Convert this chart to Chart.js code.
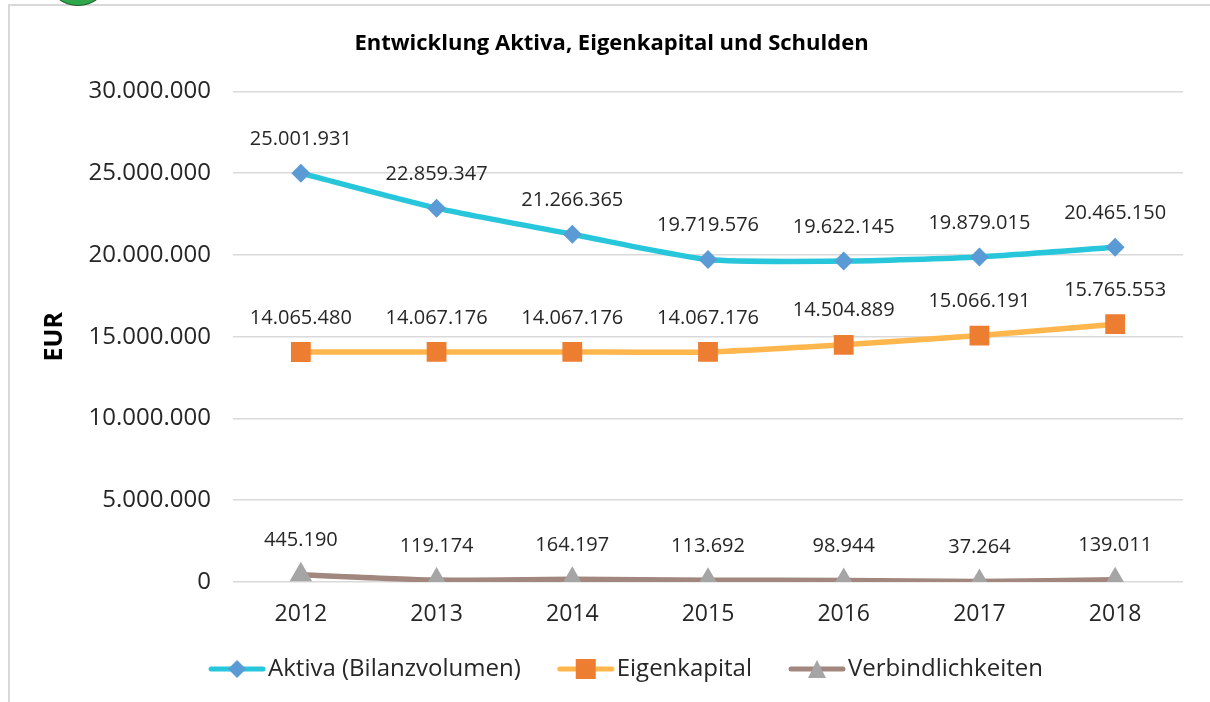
<!DOCTYPE html>
<html>
<head>
<meta charset="utf-8">
<script src="https://cdn.jsdelivr.net/npm/chart.js@4/dist/chart.umd.min.js"></script>
<style>
    html, body { margin: 0; padding: 0; background: #fff; }
    #wrap { position: relative; width: 1210px; height: 702px; overflow: hidden; }
    #frame {
        position: absolute; left: 8px; top: 4px; width: 1210px; height: 800px;
        border-left: 2px solid #d9d9d9; border-top: 2px solid #d9d9d9;
    }
    #logo {
        position: absolute; left: 50px; top: -40px; width: 54px; height: 44px;
        border-radius: 50%; background: #2ea84a; border: 1px solid #1d5f2a;
    }
    canvas { position: absolute; left: 0; top: 0; }
</style>
</head>
<body>
<div id="wrap">
    <div id="frame"></div>
    <div id="logo"></div>
    <canvas id="chart" width="1210" height="702"></canvas>
</div>
<script>
const years = ['2012', '2013', '2014', '2015', '2016', '2017', '2018'];
const aktiva = [25001931, 22859347, 21266365, 19719576, 19622145, 19879015, 20465150];
const eigenkapital = [14065480, 14067176, 14067176, 14067176, 14504889, 15066191, 15765553];
const verbindlichkeiten = [445190, 119174, 164197, 113692, 98944, 37264, 139011];
const yTicks = [0, 5000000, 10000000, 15000000, 20000000, 25000000, 30000000];

const TEXT = '#262626';
const GRID = '#d9d9d9';
const FONT = "'Open Sans', 'Noto Sans', sans-serif";

function fmt(n) {
    return String(Math.round(n)).replace(/\B(?=(\d{3})+(?!\d))/g, '.');
}

// legend swatch: line with the marker in the middle, like Excel.
// the left part of the canvas stays empty so the swatch sits close to its text
function legendIcon(lineColor, markColor, shape) {
    const c = document.createElement('canvas');
    c.width = 96;
    c.height = 22;
    const ctx = c.getContext('2d');
    const o = 38;
    ctx.strokeStyle = lineColor;
    ctx.lineWidth = 5;
    ctx.lineCap = 'round';
    ctx.beginPath();
    ctx.moveTo(o + 3, 11);
    ctx.lineTo(o + 55, 11);
    ctx.stroke();
    ctx.fillStyle = markColor;
    ctx.beginPath();
    if (shape === 'diamond') {
        ctx.moveTo(o + 29, 2); ctx.lineTo(o + 38, 11); ctx.lineTo(o + 29, 20); ctx.lineTo(o + 20, 11);
    } else if (shape === 'square') {
        ctx.rect(o + 19, 1, 20, 20);
    } else {
        ctx.moveTo(o + 29, 2); ctx.lineTo(o + 38, 20); ctx.lineTo(o + 20, 20);
    }
    ctx.closePath();
    ctx.fill();
    return c;
}

const series = [
    { label: 'Aktiva (Bilanzvolumen)', data: aktiva, line: '#27c6db', mark: '#5b9bd5', style: 'rectRot', r: 9.5, shape: 'diamond' },
    { label: 'Eigenkapital', data: eigenkapital, line: '#ffb64d', mark: '#ed7d31', style: 'rect', r: 14, shape: 'square' },
    { label: 'Verbindlichkeiten', data: verbindlichkeiten, line: '#a1877d', mark: '#a5a5a5', style: 'triangle', r: 13, shape: 'triangle' },
];

const valueLabels = {
    id: 'valueLabels',
    afterDatasetsDraw(chart) {
        const ctx = chart.ctx;
        ctx.save();
        ctx.font = `20px ${FONT}`;
        ctx.fillStyle = TEXT;
        ctx.textAlign = 'center';
        ctx.textBaseline = 'middle';
        chart.data.datasets.forEach((ds, i) => {
            chart.getDatasetMeta(i).data.forEach((pt, j) => {
                ctx.fillText(fmt(ds.data[j]), pt.x, pt.y - 34);
            });
        });
        ctx.restore();
    },
};

new Chart(document.getElementById('chart'), {
    type: 'line',
    data: {
        labels: years,
        datasets: series.map(s => ({
            label: s.label,
            data: s.data,
            borderColor: s.line,
            backgroundColor: s.mark,
            borderWidth: 5.5,
            tension: 0.2,
            pointStyle: s.style,
            pointRadius: s.r,
            pointHoverRadius: s.r,
            pointBackgroundColor: s.mark,
            pointBorderColor: s.mark,
            pointBorderWidth: 0,
            legendIcon: legendIcon(s.line, s.mark, s.shape),
        })),
    },
    options: {
        responsive: false,
        animation: false,
        layout: { padding: { left: 40, right: 27, top: 31, bottom: 11 } },
        scales: {
            x: {
                offset: true,
                grid: { display: false },
                border: { display: false },
                ticks: { color: TEXT, font: { family: FONT, size: 23 }, padding: 11 },
                afterFit(scale) { scale.height = 67; },
            },
            y: {
                min: 0,
                max: 30000000,
                afterBuildTicks(scale) { scale.ticks = yTicks.map(v => ({ value: v })); },
                grid: { color: GRID, lineWidth: 1.5, drawTicks: false },
                border: { display: false },
                ticks: {
                    color: TEXT,
                    font: { family: FONT, size: 24 },
                    padding: 22,
                    callback: v => fmt(v),
                },
                title: {
                    display: true,
                    text: 'EUR',
                    color: '#000',
                    font: { family: FONT, size: 25, weight: 'bold' },
                    padding: 0,
                },
                afterFit(scale) { scale.width = 193; },
            },
        },
        plugins: {
            title: {
                display: true,
                text: 'Entwicklung Aktiva, Eigenkapital und Schulden',
                color: '#000',
                font: { family: FONT, size: 22, weight: 'bold' },
                padding: { top: 0, bottom: 34 },
            },
            legend: {
                position: 'bottom',
                labels: {
                    color: TEXT,
                    font: { family: FONT, size: 24 },
                    usePointStyle: true,
                    pointStyleWidth: 76,
                    padding: 8,
                    generateLabels(chart) {
                        return chart.data.datasets.map((ds, i) => ({
                            text: ds.label,
                            pointStyle: ds.legendIcon,
                            fillStyle: ds.backgroundColor,
                            strokeStyle: ds.borderColor,
                            lineWidth: 0,
                            fontColor: TEXT,
                            datasetIndex: i,
                            hidden: false,
                        }));
                    },
                },
            },
            tooltip: { enabled: false },
        },
    },
    plugins: [valueLabels],
});
</script>
</body>
</html>
